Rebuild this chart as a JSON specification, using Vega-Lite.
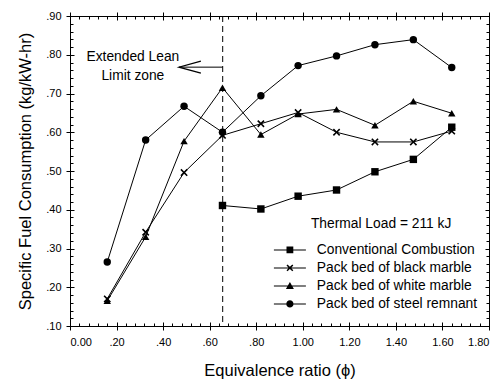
{
  "$schema": "https://vega.github.io/schema/vega-lite/v6.json",
  "width": 419,
  "height": 310,
  "autosize": {"type": "none"},
  "padding": {"left": 70, "top": 16, "right": 13, "bottom": 60},
  "background": "white",
  "config": {
    "view": {"stroke": "black", "strokeWidth": 1},
    "font": "Liberation Sans",
    "axis": {
      "labelColor": "black", "titleColor": "black",
      "labelFont": "Liberation Sans", "titleFont": "Liberation Sans",
      "labelFontSize": 11, "titleFontSize": 16.5, "titleFontWeight": "normal"
    },
    "legend": {
      "labelFont": "Liberation Sans", "labelFontSize": 13.8, "labelColor": "black"
    }
  },
  "datasets": {
    "sfc": [
      {"series": "Conventional Combustion", "phi": 0.655, "sfc": 0.411},
      {"series": "Conventional Combustion", "phi": 0.82, "sfc": 0.402},
      {"series": "Conventional Combustion", "phi": 0.98, "sfc": 0.435},
      {"series": "Conventional Combustion", "phi": 1.145, "sfc": 0.451},
      {"series": "Conventional Combustion", "phi": 1.31, "sfc": 0.498},
      {"series": "Conventional Combustion", "phi": 1.475, "sfc": 0.530},
      {"series": "Conventional Combustion", "phi": 1.64, "sfc": 0.613},
      {"series": "Pack bed of black marble", "phi": 0.16, "sfc": 0.170},
      {"series": "Pack bed of black marble", "phi": 0.325, "sfc": 0.342},
      {"series": "Pack bed of black marble", "phi": 0.49, "sfc": 0.496},
      {"series": "Pack bed of black marble", "phi": 0.655, "sfc": 0.592},
      {"series": "Pack bed of black marble", "phi": 0.82, "sfc": 0.622},
      {"series": "Pack bed of black marble", "phi": 0.98, "sfc": 0.651},
      {"series": "Pack bed of black marble", "phi": 1.145, "sfc": 0.600},
      {"series": "Pack bed of black marble", "phi": 1.31, "sfc": 0.575},
      {"series": "Pack bed of black marble", "phi": 1.475, "sfc": 0.575},
      {"series": "Pack bed of black marble", "phi": 1.64, "sfc": 0.603},
      {"series": "Pack bed of white marble", "phi": 0.16, "sfc": 0.165},
      {"series": "Pack bed of white marble", "phi": 0.325, "sfc": 0.330},
      {"series": "Pack bed of white marble", "phi": 0.49, "sfc": 0.577},
      {"series": "Pack bed of white marble", "phi": 0.655, "sfc": 0.715},
      {"series": "Pack bed of white marble", "phi": 0.82, "sfc": 0.594},
      {"series": "Pack bed of white marble", "phi": 0.98, "sfc": 0.647},
      {"series": "Pack bed of white marble", "phi": 1.145, "sfc": 0.659},
      {"series": "Pack bed of white marble", "phi": 1.31, "sfc": 0.618},
      {"series": "Pack bed of white marble", "phi": 1.475, "sfc": 0.680},
      {"series": "Pack bed of white marble", "phi": 1.64, "sfc": 0.649},
      {"series": "Pack bed of steel remnant", "phi": 0.16, "sfc": 0.265},
      {"series": "Pack bed of steel remnant", "phi": 0.325, "sfc": 0.580},
      {"series": "Pack bed of steel remnant", "phi": 0.49, "sfc": 0.667},
      {"series": "Pack bed of steel remnant", "phi": 0.655, "sfc": 0.600},
      {"series": "Pack bed of steel remnant", "phi": 0.82, "sfc": 0.694},
      {"series": "Pack bed of steel remnant", "phi": 0.98, "sfc": 0.772},
      {"series": "Pack bed of steel remnant", "phi": 1.145, "sfc": 0.797},
      {"series": "Pack bed of steel remnant", "phi": 1.31, "sfc": 0.826},
      {"series": "Pack bed of steel remnant", "phi": 1.475, "sfc": 0.839},
      {"series": "Pack bed of steel remnant", "phi": 1.64, "sfc": 0.767}
    ]
  },
  "layer": [
    {
      "data": {"name": "sfc"},
      "mark": {"type": "line", "color": "black", "strokeWidth": 1},
      "encoding": {
        "x": {"field": "phi", "type": "quantitative",
          "scale": {"domain": [0, 1.8], "nice": false, "zero": false},
          "axis": {"orient": "bottom", "values": [0, 0.2, 0.4, 0.6, 0.8, 1, 1.2, 1.4, 1.6, 1.8],
            "domain": true, "domainColor": "black", "grid": false, "ticks": true, "tickColor": "black", "tickWidth": 1,
            "tickSize": 4, "labelPadding": 6,
            "labelExpr": "datum.value == 0 ? '0.00' : (datum.value < 1 ? replace(format(datum.value, '.2f'), '0.', '.') : format(datum.value, '.2f'))",
            "title": "Equivalence ratio (ϕ)", "titlePadding": 15}},
        "y": {"field": "sfc", "type": "quantitative",
          "scale": {"domain": [0.1, 0.9], "nice": false, "zero": false},
          "axis": {"orient": "left", "values": [0.1, 0.2, 0.3, 0.4, 0.5, 0.6, 0.7, 0.8, 0.9],
            "domain": true, "domainColor": "black", "grid": false, "ticks": true, "tickColor": "black", "tickWidth": 1,
            "tickSize": 4, "labelPadding": 5,
            "labelExpr": "replace(format(datum.value, '.2f'), '0.', '.')",
            "title": "Specific Fuel Consumption (kg/kW-hr)", "titlePadding": 12}},
        "detail": {"field": "series", "type": "nominal"}
      }
    },
    {
      "data": {"name": "sfc"},
      "mark": {"type": "point", "filled": true, "color": "black", "opacity": 1, "size": 55},
      "encoding": {
        "x": {"field": "phi", "type": "quantitative",
          "scale": {"domain": [0, 1.8], "nice": false, "zero": false},
          "axis": {"orient": "bottom", "values": [0, 0.2, 0.4, 0.6, 0.8, 1, 1.2, 1.4, 1.6, 1.8],
            "domain": true, "domainOpacity": 0, "grid": false, "ticks": true, "tickColor": "black", "tickWidth": 1,
            "offset": -4, "tickSize": 4, "labels": false, "title": null}},
        "y": {"field": "sfc", "type": "quantitative",
          "scale": {"domain": [0.1, 0.9], "nice": false, "zero": false},
          "axis": {"orient": "left", "values": [0.1, 0.2, 0.3, 0.4, 0.5, 0.6, 0.7, 0.8, 0.9],
            "domain": true, "domainOpacity": 0, "grid": false, "ticks": true, "tickColor": "black", "tickWidth": 1,
            "offset": -4, "tickSize": 4, "labels": false, "title": null}},
        "shape": {"field": "series", "type": "nominal",
          "scale": {"domain": ["Conventional Combustion", "Pack bed of black marble", "Pack bed of white marble", "Pack bed of steel remnant"],
            "range": ["square", "M-1,-0.7L-0.7,-1L0,-0.3L0.7,-1L1,-0.7L0.3,0L1,0.7L0.7,1L0,0.3L-0.7,1L-1,0.7L-0.3,0Z", "triangle-up", "circle"]},
          "legend": null}
      }
    },
    {
      "data": {"name": "sfc"},
      "mark": {"type": "point", "filled": true, "color": "black", "opacity": 1, "clip": true, "size": 64},
      "encoding": {
        "x": {"datum": -1, "type": "quantitative",
          "scale": {"domain": [0, 1.8], "nice": false, "zero": false},
          "axis": {"orient": "top", "values": [0, 0.2, 0.4, 0.6, 0.8, 1, 1.2, 1.4, 1.6, 1.8],
            "domain": true, "domainColor": "black", "grid": false, "ticks": true, "tickColor": "black", "tickWidth": 1,
            "tickSize": 4, "labels": false, "title": null}},
        "y": {"datum": 0.5, "type": "quantitative",
          "scale": {"domain": [0.1, 0.9], "nice": false, "zero": false},
          "axis": {"orient": "right", "values": [0.1, 0.2, 0.3, 0.4, 0.5, 0.6, 0.7, 0.8, 0.9],
            "domain": true, "domainOpacity": 0, "grid": false, "ticks": true, "tickColor": "black", "tickWidth": 1,
            "offset": -4, "tickSize": 4, "labels": false, "title": null}},
        "shape": {"field": "series", "type": "nominal",
          "scale": {"domain": ["Conventional Combustion", "Pack bed of black marble", "Pack bed of white marble", "Pack bed of steel remnant"],
            "range": [
              "M-4,-0.13L4,-0.13L4,0.13L-4,0.13ZM-0.85,-0.85L0.85,-0.85L0.85,0.85L-0.85,0.85Z",
              "M-4,-0.13L4,-0.13L4,0.13L-4,0.13ZM-0.85,-0.6L-0.6,-0.85L0,-0.26L0.6,-0.85L0.85,-0.6L0.26,0L0.85,0.6L0.6,0.85L0,0.26L-0.6,0.85L-0.85,0.6L-0.26,0Z",
              "M-4,-0.13L4,-0.13L4,0.13L-4,0.13ZM0,-0.95L1,0.8L-1,0.8Z",
              "M-4,-0.13L4,-0.13L4,0.13L-4,0.13ZM0.9,0A0.9,0.9,0,1,1,-0.9,0A0.9,0.9,0,1,1,0.9,0Z"
            ]},
          "legend": {"orient": "none", "legendX": 213, "legendY": 227, "title": null, "direction": "vertical",
            "symbolSize": 64, "labelOffset": 20, "labelLimit": 300, "rowPadding": 3, "padding": 0,
            "symbolFillColor": "black", "symbolStrokeColor": "black", "symbolStrokeWidth": 0}}
      }
    },
    {
      "data": {"values": [{}]},
      "mark": {"type": "text", "align": "center", "baseline": "middle", "fontSize": 13.8, "lineHeight": 19, "font": "Liberation Sans", "color": "black"},
      "encoding": {
        "x": {"datum": 0.27, "type": "quantitative",
          "scale": {"domain": [0, 1.8], "nice": false, "zero": false},
          "axis": {"orient": "top", "values": [0,0.04,0.08,0.12,0.16,0.2,0.24,0.28,0.32,0.36,0.4,0.44,0.48,0.52,0.56,0.6,0.64,0.68,0.72,0.76,0.8,0.84,0.88,0.92,0.96,1,1.04,1.08,1.12,1.16,1.2,1.24,1.28,1.32,1.36,1.4,1.44,1.48,1.52,1.56,1.6,1.64,1.68,1.72,1.76,1.8],
            "domain": true, "domainOpacity": 0, "grid": false, "ticks": true, "tickColor": "black", "tickWidth": 1,
            "offset": -3, "tickSize": 3, "labels": false, "title": null}},
        "y": {"datum": 0.793, "type": "quantitative",
          "scale": {"domain": [0.1, 0.9], "nice": false, "zero": false},
          "axis": {"orient": "right", "values": [0.1,0.12,0.14,0.16,0.18,0.2,0.22,0.24,0.26,0.28,0.3,0.32,0.34,0.36,0.38,0.4,0.42,0.44,0.46,0.48,0.5,0.52,0.54,0.56,0.58,0.6,0.62,0.64,0.66,0.68,0.7,0.72,0.74,0.76,0.78,0.8,0.82,0.84,0.86,0.88,0.9],
            "domain": true, "domainOpacity": 0, "grid": false, "ticks": true, "tickColor": "black", "tickWidth": 1,
            "offset": -3, "tickSize": 3, "labels": false, "title": null}},
        "text": {"value": ["Extended Lean", "Limit zone"]}
      }
    },
    {
      "data": {"values": [{}]},
      "mark": {"type": "rule", "color": "black", "strokeWidth": 1, "strokeDash": [6, 4]},
      "encoding": {
        "x": {"datum": 0.656, "type": "quantitative",
          "axis": {"orient": "bottom", "values": [0,0.04,0.08,0.12,0.16,0.2,0.24,0.28,0.32,0.36,0.4,0.44,0.48,0.52,0.56,0.6,0.64,0.68,0.72,0.76,0.8,0.84,0.88,0.92,0.96,1,1.04,1.08,1.12,1.16,1.2,1.24,1.28,1.32,1.36,1.4,1.44,1.48,1.52,1.56,1.6,1.64,1.68,1.72,1.76,1.8],
            "domain": true, "domainOpacity": 0, "grid": false, "ticks": true, "tickColor": "black", "tickWidth": 1,
            "offset": -3, "tickSize": 3, "labels": false, "title": null}}
      }
    },
    {
      "data": {"values": [{}]},
      "mark": {"type": "rule", "color": "black", "strokeWidth": 1},
      "encoding": {
        "x": {"datum": 0.47, "type": "quantitative",
          "axis": {"orient": "top", "values": [0, 0.2, 0.4, 0.6, 0.8, 1, 1.2, 1.4, 1.6, 1.8],
            "domain": true, "domainOpacity": 0, "grid": false, "ticks": true, "tickColor": "black", "tickWidth": 1,
            "offset": -4, "tickSize": 4, "labels": false, "title": null}},
        "x2": {"datum": 0.656},
        "y": {"datum": 0.768, "type": "quantitative",
          "axis": {"orient": "left", "values": [0.1,0.12,0.14,0.16,0.18,0.2,0.22,0.24,0.26,0.28,0.3,0.32,0.34,0.36,0.38,0.4,0.42,0.44,0.46,0.48,0.5,0.52,0.54,0.56,0.58,0.6,0.62,0.64,0.66,0.68,0.7,0.72,0.74,0.76,0.78,0.8,0.82,0.84,0.86,0.88,0.9],
            "domain": true, "domainOpacity": 0, "grid": false, "ticks": true, "tickColor": "black", "tickWidth": 1,
            "offset": -3, "tickSize": 3, "labels": false, "title": null}}
      }
    },
    {
      "data": {"values": [{}]},
      "mark": {"type": "point", "filled": false, "stroke": "black", "strokeWidth": 1.2, "opacity": 1, "size": 484,
        "shape": "M1,-0.55L-1,0L1,0.55"},
      "encoding": {
        "x": {"datum": 0.515, "type": "quantitative", "axis": null},
        "y": {"datum": 0.768, "type": "quantitative", "axis": null}
      }
    },
    {
      "data": {"values": [{}]},
      "mark": {"type": "text", "align": "left", "baseline": "middle", "fontSize": 13.8, "font": "Liberation Sans", "color": "black"},
      "encoding": {
        "x": {"datum": 1.035, "type": "quantitative", "axis": null},
        "y": {"datum": 0.363, "type": "quantitative", "axis": null},
        "text": {"value": "Thermal Load = 211 kJ"}
      }
    }
  ],
  "resolve": {"scale": {"shape": "independent"}, "axis": {"x": "independent", "y": "independent"}}
}
